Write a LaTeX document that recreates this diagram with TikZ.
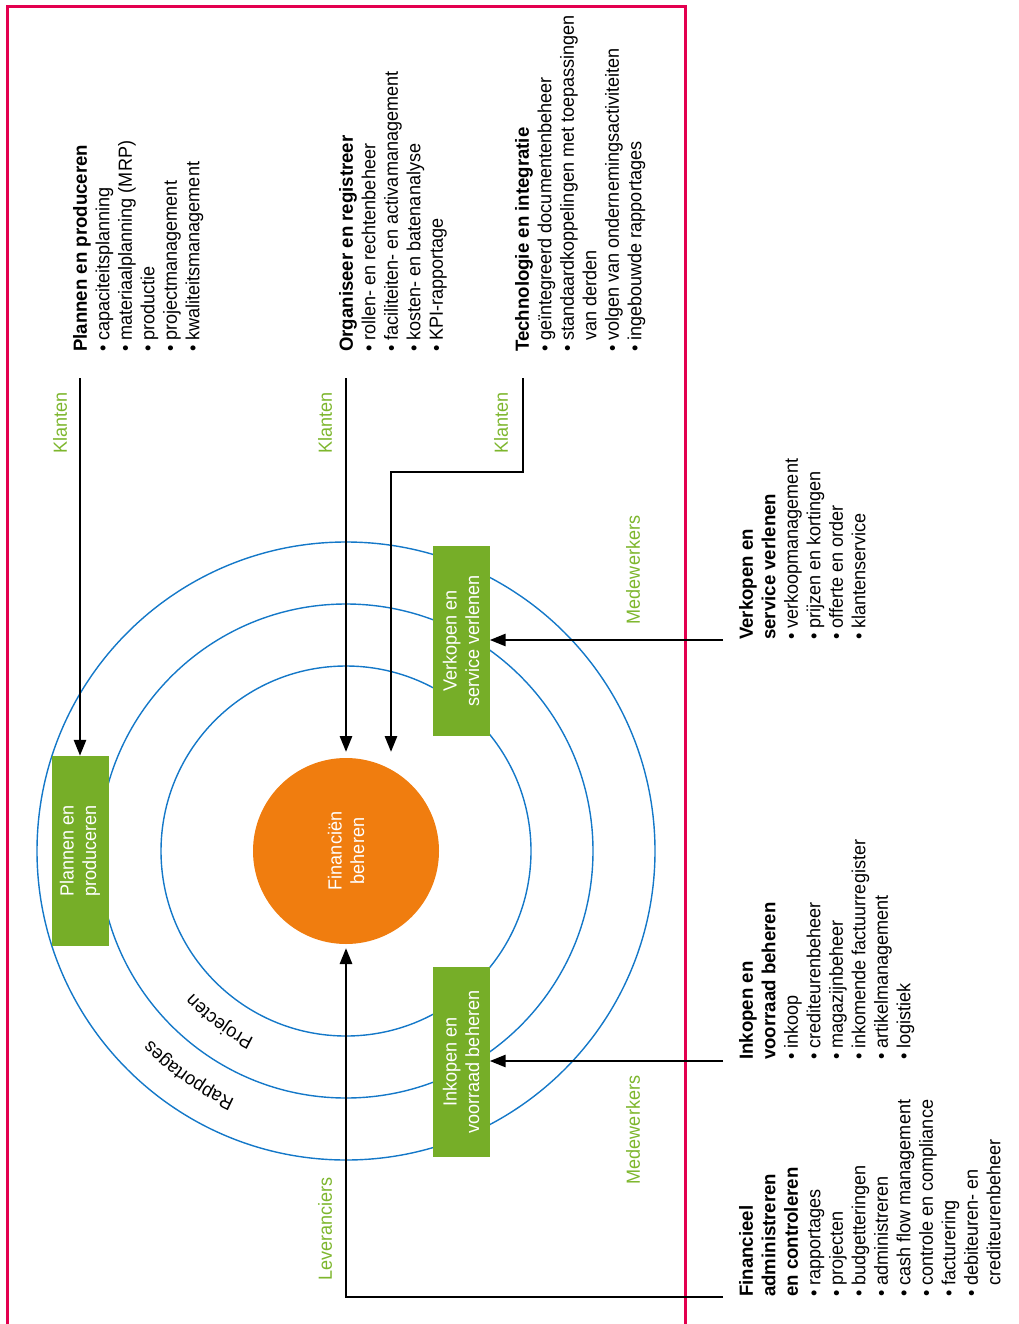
\documentclass[tikz,border=0pt]{standalone}
\usepackage{fontspec}
\setmainfont{Liberation Sans}[FakeStretch=0.95, BoldFeatures={FakeStretch=0.98}]
\usetikzlibrary{arrows.meta, decorations.text}
\definecolor{redframe}{RGB}{227,0,79}
\definecolor{gboxfill}{RGB}{118,174,40}
\definecolor{glabel}{RGB}{125,182,45}
\definecolor{orng}{RGB}{240,125,15}
\definecolor{ring}{RGB}{20,120,200}
\begin{document}
\begin{tikzpicture}[x=1pt,y=1pt,
  every node/.style={font=\fontsize{19}{22.5}\selectfont},
  txt/.style={align=left, inner sep=0pt, rotate=90, anchor=north west},
  lbl/.style={text=glabel, rotate=90, inner sep=0pt},
  greenbox/.style={fill=gboxfill, text=white, rotate=90, minimum width=190pt, minimum height=57pt, align=center, inner sep=0pt},
  arr/.style={line width=2.8pt, -{Triangle[length=16pt,width=12pt]}},
  ringline/.style={draw=ring, line width=1.4pt}]
\useasboundingbox (0,0) rectangle (1019,-1324);
\draw[redframe, line width=3pt] (685,-1324) -- (685,-7) -- (7,-7) -- (7,-1324);

% rings
\draw[ringline] (346,-851) circle[radius=185pt];
\draw[ringline] (346,-851) circle[radius=247pt];
\draw[ringline] (346,-851) circle[radius=309pt];

% arc texts
\path[decorate, decoration={text along path, text={|\fontsize{19}{22}\selectfont|Projecten}, text align=center}, shift={(346,-851)}]
  (255:209pt) arc[start angle=255, end angle=212, radius=209pt];
\path[decorate, decoration={text along path, text={|\fontsize{19}{22}\selectfont|Rapportages}, text align=center}, shift={(346,-851)}]
  (258:272pt) arc[start angle=258, end angle=212, radius=272pt];

% centre
\node[circle, fill=orng, minimum size=186pt, text=white, align=center, rotate=90, inner sep=0pt] (fin) at (346,-851) {Financiën\\beheren};

% green boxes
\node[greenbox] (plan) at (80,-851) {Plannen en\\produceren};
\node[greenbox] (verk) at (461,-641) {Verkopen en\\service verlenen};
\node[greenbox] (inko) at (461,-1062) {Inkopen en\\voorraad beheren};

% text blocks
\node[txt] (tplan) at (73,-352) {\textbf{Plannen en produceren}\\
• capaciteitsplanning\\
• materiaalplanning (MRP)\\
• productie\\
• projectmanagement\\
• kwaliteitsmanagement};
\node[txt] (torg) at (339,-352) {\textbf{Organiseer en registreer}\\
• rollen- en rechtenbeheer\\
• faciliteiten- en activamanagement\\
• kosten- en batenanalyse\\
• KPI-rapportage};
\node[txt] (ttech) at (515,-352) {\textbf{Technologie en integratie}\\
• geïntegreerd documentenbeheer\\
• standaardkoppelingen met toepassingen\\
\phantom{• }van derden\\
• volgen van ondernemingsactiviteiten\\
• ingebouwde rapportages};
\node[txt] (tverk) at (739,-640) {\textbf{Verkopen en}\\
\textbf{service verlenen}\\
• verkoopmanagement\\
• prijzen en kortingen\\
• offerte en order\\
• klantenservice};
\node[txt] (tinko) at (739,-1060) {\textbf{Inkopen en}\\
\textbf{voorraad beheren}\\
• inkoop\\
• crediteurenbeheer\\
• magazijnbeheer\\
• inkomende factuurregister\\
• artikelmanagement\\
• logistiek};
\node[txt] (tfin) at (739,-1297) {\textbf{Financieel}\\
\textbf{administreren}\\
\textbf{en controleren}\\
• rapportages\\
• projecten\\
• budgetteringen\\
• administreren\\
• cash flow management\\
• controle en compliance\\
• facturering\\
• debiteuren- en\\
\phantom{• }crediteurenbeheer};

% green labels
\node[lbl] (k1) at (60,-423) {Klanten};
\node[lbl] (k2) at (325,-423) {Klanten};
\node[lbl] (k3) at (501,-423) {Klanten};
\node[lbl] (m1) at (633,-570) {Medewerkers};
\node[lbl] (m2) at (633,-1130) {Medewerkers};
\node[lbl] (lv) at (325,-1229) {Leveranciers};

% connectors
\coordinate (a1) at (80,-378);
\coordinate (a2) at (346,-378);
\coordinate (a2e) at (346,-752);
\coordinate (a3) at (523,-378);
\coordinate (a3k) at (523,-472);
\coordinate (a3e) at (391,-752);
\coordinate (a4) at (723,-640);
\coordinate (a5) at (723,-1061);
\coordinate (a6) at (723,-1297);
\coordinate (a6e) at (346,-948);
\draw[arr] (a1) -- (plan);
\draw[arr] (a2) -- (a2e);
\draw[arr] (a3) -- (a3k) -| (a3e);
\draw[arr] (a4) -- (a4 -| verk.south);
\draw[arr] (a5) -- (a5 -| inko.south);
\draw[arr] (a6) -| (a6e);
\end{tikzpicture}
\end{document}
